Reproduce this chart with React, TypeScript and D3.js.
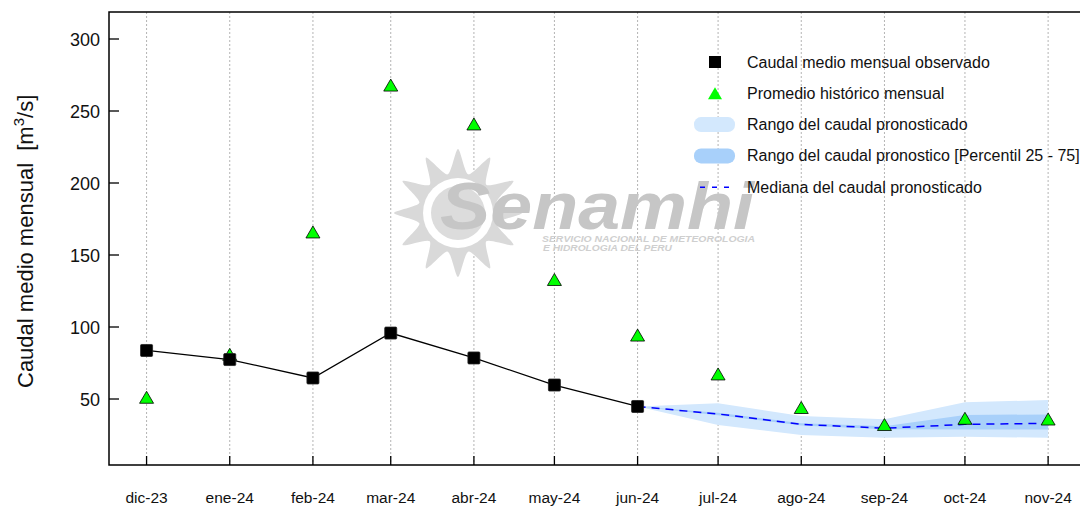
import { useEffect, useRef } from "react";
import * as d3 from "d3";

const months = [
  "2023-12-01", "2024-01-01", "2024-02-01", "2024-03-01", "2024-04-01", "2024-05-01",
  "2024-06-01", "2024-07-01", "2024-08-01", "2024-09-01", "2024-10-01", "2024-11-01",
];
const monthLabels = [
  "dic-23", "ene-24", "feb-24", "mar-24", "abr-24", "may-24",
  "jun-24", "jul-24", "ago-24", "sep-24", "oct-24", "nov-24",
];
const yTicks = [50, 100, 150, 200, 250, 300];

// caudal observado (dic-23 .. jun-24)
const observed = [83.7, 77.4, 64.6, 95.8, 78.5, 59.7, 44.8];
// promedio historico (dic-23 .. nov-24)
const historical = [51.2, 81, 166, 268, 241, 133, 94.4, 67.4, 44.1, 32.3, 36.6, 36.1];
// pronostico (jun-24 .. nov-24)
const forecastMonths = months.slice(6);
const median = [44.8, 39.6, 32.4, 29.7, 32.4, 33.1];
const rangeLow = [44.8, 32, 25, 23.1, 23.8, 23.1];
const rangeHigh = [44.8, 47, 38.2, 35.9, 47.7, 49.3];
const p25 = [44.8, 38.8, 31.6, 29, 28.9, 28.9];
const p75 = [44.8, 40.4, 33.2, 31, 38.9, 39.3];

const legendItems = [
  "Caudal medio mensual observado",
  "Promedio histórico mensual",
  "Rango del caudal pronosticado",
  "Rango del caudal pronostico [Percentil 25 - 75]",
  "Mediana del caudal pronosticado",
];

const width = 1080;
const height = 506;
const FONT = "'Liberation Sans', Arial, sans-serif";

export default function App() {
  const svgRef = useRef<SVGSVGElement | null>(null);

  useEffect(() => {
    const svg = d3.select(svgRef.current);
    svg.selectAll("*").remove();

    const left = 109, top = 12, bottom = 465, right = 1083;
    const dates = months.map((m) => new Date(m + "T00:00:00Z"));
    const fDates = forecastMonths.map((m) => new Date(m + "T00:00:00Z"));

    const x = d3
      .scaleUtc()
      .domain([d3.utcDay.offset(dates[0], -13.4), d3.utcDay.offset(dates[11], 13.4)])
      .range([left, right]);
    const y = d3.scaleLinear().domain([4.17, 318.75]).range([bottom, top]);

    // grid lines
    svg
      .append("g")
      .selectAll("line")
      .data(dates)
      .join("line")
      .attr("x1", (d) => x(d))
      .attr("x2", (d) => x(d))
      .attr("y1", top)
      .attr("y2", bottom)
      .attr("stroke", "#b4b4b4")
      .attr("stroke-width", 1)
      .attr("stroke-dasharray", "2,2");

    // watermark
    const wm = svg.append("g");
    const cx = 458, cy = 213;
    const star: [number, number][] = [];
    const nRays = 12;
    for (let i = 0; i < nRays * 2; i++) {
      const a = (i / (nRays * 2)) * Math.PI * 2 - Math.PI / 2;
      const r = i % 2 === 0 ? 64 : 40;
      star.push([cx + r * Math.cos(a), cy + r * Math.sin(a)]);
    }
    wm.append("path")
      .attr("d", d3.line().curve(d3.curveCardinalClosed.tension(0.3))(star))
      .attr("fill", "#d9d9d9");
    wm.append("circle").attr("cx", cx).attr("cy", cy).attr("r", 35).attr("fill", "#ffffff");
    wm.append("circle").attr("cx", cx).attr("cy", cy).attr("r", 27).attr("fill", "#dcdcdc");
    wm.append("text")
      .attr("x", 440)
      .attr("y", 229)
      .attr("textLength", 314)
      .attr("lengthAdjust", "spacingAndGlyphs")
      .style("font-family", FONT)
      .style("font-size", "66px")
      .style("font-weight", "bold")
      .style("font-style", "italic")
      .style("fill", "#c6c6c6")
      .text("Senamhi");
    wm.append("text")
      .attr("x", 542)
      .attr("y", 242)
      .attr("textLength", 213)
      .attr("lengthAdjust", "spacingAndGlyphs")
      .style("font-family", FONT)
      .style("font-size", "9px")
      .style("font-weight", "bold")
      .style("font-style", "italic")
      .style("fill", "#cfcfcf")
      .text("SERVICIO NACIONAL DE METEOROLOGIA");
    wm.append("text")
      .attr("x", 543)
      .attr("y", 251)
      .attr("textLength", 129)
      .attr("lengthAdjust", "spacingAndGlyphs")
      .style("font-family", FONT)
      .style("font-size", "9px")
      .style("font-weight", "bold")
      .style("font-style", "italic")
      .style("fill", "#cfcfcf")
      .text("E HIDROLOGIA DEL PERU");

    // forecast bands
    const idx = d3.range(fDates.length);
    const band = (lo: number[], hi: number[]) =>
      d3
        .area<number>()
        .x((i) => x(fDates[i]))
        .y0((i) => y(lo[i]))
        .y1((i) => y(hi[i]))(idx);
    svg.append("path").attr("d", band(rangeLow, rangeHigh)).attr("fill", "#d3e8fd");
    svg.append("path").attr("d", band(p25, p75)).attr("fill", "#a8d0fa");

    // median
    svg
      .append("path")
      .attr("d", d3.line<number>().x((i) => x(fDates[i])).y((i) => y(median[i]))(idx))
      .attr("fill", "none")
      .attr("stroke", "#0000ff")
      .attr("stroke-width", 1.5)
      .attr("stroke-dasharray", "8,6");

    // observed line
    const obsIdx = d3.range(observed.length);
    svg
      .append("path")
      .attr("d", d3.line<number>().x((i) => x(dates[i])).y((i) => y(observed[i]))(obsIdx))
      .attr("fill", "none")
      .attr("stroke", "#000")
      .attr("stroke-width", 1.3);

    const triPath = "M0,-6L7,6L-7,6Z";

    // historical triangles
    svg
      .append("g")
      .selectAll("path")
      .data(historical)
      .join("path")
      .attr("d", triPath)
      .attr("transform", (d, i) => `translate(${x(dates[i])},${y(d)})`)
      .attr("fill", "#00ff00")
      .attr("stroke", "#000")
      .attr("stroke-width", 0.8);

    // observed squares
    svg
      .append("g")
      .selectAll("rect")
      .data(observed)
      .join("rect")
      .attr("x", (d, i) => x(dates[i]) - 6)
      .attr("y", (d) => y(d) - 6)
      .attr("width", 12)
      .attr("height", 12)
      .attr("rx", 1)
      .attr("fill", "#000")
      .attr("stroke", "#222")
      .attr("stroke-width", 0.8);

    // axes frame
    svg
      .append("path")
      .attr("d", `M${right},${top}H${left}V${bottom}H${right}`)
      .attr("fill", "none")
      .attr("stroke", "#000")
      .attr("stroke-width", 1.5);

    // y ticks
    const yg = svg.append("g");
    yg.selectAll("line")
      .data(yTicks)
      .join("line")
      .attr("x1", left)
      .attr("x2", left + 10)
      .attr("y1", (d) => y(d))
      .attr("y2", (d) => y(d))
      .attr("stroke", "#000")
      .attr("stroke-width", 1.3);
    yg.selectAll("text")
      .data(yTicks)
      .join("text")
      .attr("x", 100)
      .attr("y", (d) => y(d) + 6.5)
      .attr("text-anchor", "end")
      .style("font-family", FONT)
      .style("font-size", "18px")
      .style("fill", "#111")
      .text((d) => d);

    // x ticks
    const xg = svg.append("g");
    xg.selectAll("line")
      .data(dates)
      .join("line")
      .attr("x1", (d) => x(d))
      .attr("x2", (d) => x(d))
      .attr("y1", bottom)
      .attr("y2", bottom - 9)
      .attr("stroke", "#000")
      .attr("stroke-width", 1.3);
    xg.selectAll("text")
      .data(dates)
      .join("text")
      .attr("x", (d) => x(d))
      .attr("y", 503)
      .attr("text-anchor", "middle")
      .style("font-family", FONT)
      .style("font-size", "15.5px")
      .style("fill", "#111")
      .text((d, i) => monthLabels[i]);

    // y title
    const yt = svg
      .append("text")
      .attr("transform", "translate(33,388) rotate(-90)")
      .style("font-family", FONT)
      .style("font-size", "22px")
      .style("white-space", "pre")
      .style("fill", "#111");
    yt.append("tspan").text("Caudal medio mensual  [m");
    yt.append("tspan").attr("dy", -9).style("font-size", "15px").text("3");
    yt.append("tspan").attr("dy", 9).text("/s]");

    // legend
    const lg = svg.append("g");
    const rowY = (i: number) => 62 + i * 31.3;
    lg.selectAll("text")
      .data(legendItems)
      .join("text")
      .attr("x", 747)
      .attr("y", (d, i) => rowY(i) + 5.5)
      .style("font-family", FONT)
      .style("font-size", "16px")
      .style("fill", "#111")
      .text((d) => d);
    lg.append("rect")
      .attr("x", 709)
      .attr("y", rowY(0) - 6)
      .attr("width", 12)
      .attr("height", 12)
      .attr("fill", "#000");
    lg.append("path")
      .attr("d", "M0,-6L7,6L-7,6Z")
      .attr("transform", `translate(715,${rowY(1)})`)
      .attr("fill", "#00ff00");
    lg.append("rect")
      .attr("x", 694)
      .attr("y", rowY(2) - 7.5)
      .attr("width", 41)
      .attr("height", 15)
      .attr("rx", 7)
      .attr("fill", "#d3e8fd");
    lg.append("rect")
      .attr("x", 694)
      .attr("y", rowY(3) - 7.5)
      .attr("width", 41)
      .attr("height", 15)
      .attr("rx", 7)
      .attr("fill", "#a8d0fa");
    lg.append("line")
      .attr("x1", 700)
      .attr("x2", 730)
      .attr("y1", rowY(4))
      .attr("y2", rowY(4))
      .attr("stroke", "#0000ff")
      .attr("stroke-width", 1.5)
      .attr("stroke-dasharray", "5,7");
  }, []);

  return (
    <svg
      ref={svgRef}
      width={width}
      height={height}
      style={{ position: "absolute", left: 0, top: 0, backgroundColor: "#ffffff" }}
    />
  );
}
